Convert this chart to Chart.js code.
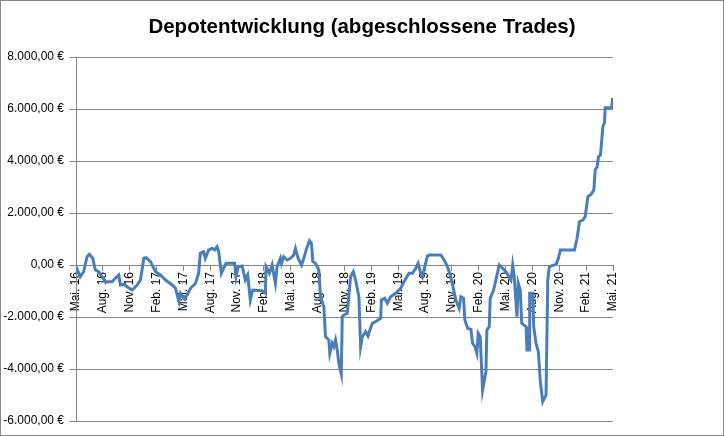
<!DOCTYPE html>
<html>
<head>
<meta charset="utf-8">
<script src="https://cdn.jsdelivr.net/npm/chart.js@4.4.1/dist/chart.umd.min.js"></script>
<style>
  html, body { margin: 0; padding: 0; background: #ffffff; }
  #wrap { width: 724px; height: 436px; position: relative; }
</style>
</head>
<body>
<div id="wrap"><canvas id="c" width="724" height="436"></canvas></div>
<script>
const chartTitle = "Depotentwicklung (abgeschlossene Trades)";

// x positions: months elapsed since May 2016
const monthOffsets = [
  0, 0.48, 0.86, 1.23, 1.49, 1.87, 2.16, 2.54, 2.91, 3.28,
  4.03, 4.40, 4.78, 4.96, 5.34, 5.71, 6.27, 6.83, 7.20, 7.58,
  7.84, 8.32, 8.88, 9.44, 10.0, 10.75, 11.12, 11.50, 11.68, 12.06,
  12.43, 12.80, 13.36, 13.70, 13.89, 14.25, 14.45, 14.82, 15.20, 15.49,
  15.76, 15.94, 16.24, 16.49, 16.76, 17.72, 17.88, 18.11, 18.56, 18.92,
  19.18, 19.48, 19.74, 20.79, 21.16, 21.24, 21.61, 21.91, 22.28, 22.47,
  22.84, 22.96, 23.21, 23.59, 23.96, 24.33, 24.52, 24.82, 25.20, 25.45,
  25.83, 26.09, 26.31, 26.46, 26.76, 27.13, 27.32, 27.69, 27.88, 28.25,
  28.36, 28.63, 28.81, 29.00, 29.19, 29.37, 29.64, 29.75, 29.93, 30.31,
  30.68, 30.98, 31.24, 31.61, 31.80, 31.99, 32.36, 32.62, 32.84, 33.11,
  33.48, 34.04, 34.12, 34.49, 34.79, 35.16, 35.72, 36.28, 36.65, 37.21,
  37.59, 37.96, 38.22, 38.52, 38.71, 38.97, 39.27, 39.45, 40.76, 41.13,
  41.51, 41.88, 42.44, 42.81, 43.00, 43.30, 43.45, 43.75, 44.12, 44.31,
  44.57, 44.79, 44.94, 45.16, 45.43, 45.80, 45.91, 46.17, 46.28, 46.66,
  47.29, 48.04, 48.60, 48.79, 48.97, 49.27, 49.42, 49.64, 49.80, 50.28,
  50.39, 50.65, 50.69, 51.03, 51.14, 51.40, 51.66, 51.88, 52.15, 52.52,
  52.71, 52.89, 53.64, 53.90, 54.12, 55.69, 55.99, 56.25, 56.63, 56.89,
  57.19, 57.56, 57.86, 58.01, 58.23, 58.38, 58.60, 58.87, 59.05, 59.13,
  59.85, 59.95
];

// portfolio value (EUR)
const depotValues = [
  -50, -450, -258, 319, 412, 258, -192, -258, -450, -642,
  -642, -512, -385, -769, -742, -835, -962, -769, -577, 258,
  281, 127, -258, -385, -577, -769, -896, -1411, -1088, -1281,
  -1154, -896, -704, -319, 450, 512, 258, 577, 642, 577,
  704, 512, -319, -127, 65, 65, -450, -65, -38, -577,
  -385, -1346, -962, -988, -1088, -65, -319, 0, -704, -65,
  258, 65, 319, 192, 258, 385, 642, 258, 0, 258,
  704, 935, 835, 127, 65, -192, -1219, -1604, -2758, -2885,
  -3396, -3011, -3142, -2885, -3269, -3781, -4192, -1988, -1923, -1858,
  -450, -258, -577, -1219, -3142, -2758, -2565, -2731, -2500, -2242,
  -2181, -2050, -1346, -1281, -1473, -1219, -1088, -896, -642, -319,
  -319, -127, 65, -319, -450, -65, 346, 385, 385, 192,
  -65, -462, -1346, -1665, -1219, -1281, -2115, -2435, -2473, -3011,
  -3142, -3396, -2627, -2758, -4808, -4104, -2500, -2373, -1281, -962,
  0, -258, -577, 0, -450, -1988, -704, -962, -2242, -2373,
  -3269, -3269, -1088, -1088, -2373, -3011, -3334, -4488, -5257, -5000,
  -577, -65, 27, 258, 577, 577, 1027, 1665, 1731, 1858,
  2627, 2719, 2885, 3654, 3781, 4165, 4231, 5319, 5488, 6050,
  6050, 6420
];

// category axis labels (one every 3 months)
const xTickMonths = [0, 3, 6, 9, 12, 15, 18, 21, 24, 27, 30, 33, 36, 39, 42, 45, 48, 51, 54, 57, 60];
const xTickLabels = ["Mai. 16","Aug. 16","Nov. 16","Feb. 17","Mai. 17","Aug. 17","Nov. 17","Feb. 18",
  "Mai. 18","Aug. 18","Nov. 18","Feb. 19","Mai. 19","Aug. 19","Nov. 19","Feb. 20","Mai. 20",
  "Aug. 20","Nov. 20","Feb. 21","Mai. 21"];

const yTickValues = [-6000, -4000, -2000, 0, 2000, 4000, 6000, 8000];
const yTickLabels = ["-6.000,00 €","-4.000,00 €","-2.000,00 €","0,00 €","2.000,00 €","4.000,00 €","6.000,00 €","8.000,00 €"];

const points = monthOffsets.map((m, i) => ({ x: m, y: depotValues[i] }));

const GRID = '#868686';

const frame = {
  id: 'frame',
  beforeDraw(chart) {
    const ctx = chart.ctx;
    ctx.save();
    ctx.fillStyle = '#ffffff';
    ctx.fillRect(0, 0, chart.width, chart.height);
    ctx.restore();
  },
  afterDraw(chart) {
    const ctx = chart.ctx;
    ctx.save();
    // centred chart title over the whole canvas
    ctx.fillStyle = '#000000';
    ctx.font = 'bold 20.5px "Liberation Sans"';
    ctx.textAlign = 'center';
    ctx.textBaseline = 'alphabetic';
    ctx.fillText(chartTitle, chart.width / 2, 33);
    // outer frame
    ctx.strokeStyle = GRID;
    ctx.lineWidth = 1;
    ctx.strokeRect(0.5, 0.5, chart.width - 1, chart.height - 1);
    ctx.restore();
  }
};

new Chart(document.getElementById('c'), {
  type: 'line',
  data: {
    datasets: [{
      data: points,
      borderColor: '#4A7EBB',
      borderWidth: 3,
      pointRadius: 0,
      tension: 0,
      fill: false
    }]
  },
  options: {
    responsive: false,
    animation: false,
    layout: { padding: { left: 0, right: 111, top: 57, bottom: 15 } },
    plugins: {
      legend: { display: false },
      tooltip: { enabled: false },
      title: { display: false }
    },
    scales: {
      x: {
        type: 'linear',
        position: { y: 0 },
        min: 0,
        max: 60,
        afterBuildTicks(scale) {
          scale.ticks = xTickMonths.map(v => ({ value: v }));
        },
        ticks: {
          autoSkip: false,
          minRotation: 90,
          maxRotation: 90,
          padding: 2,
          color: '#000000',
          font: { family: 'Liberation Sans', size: 12 },
          callback(value) {
            const i = xTickMonths.indexOf(value);
            return i >= 0 ? xTickLabels[i] : '';
          }
        },
        grid: { drawOnChartArea: false, drawTicks: true, tickLength: 5, color: GRID },
        border: { display: true, color: GRID, width: 1 }
      },
      y: {
        min: -6000,
        max: 8000,
        afterFit(scale) { scale.width = 76; },
        afterBuildTicks(scale) {
          scale.ticks = yTickValues.map(v => ({ value: v }));
        },
        ticks: {
          padding: 6,
          color: '#000000',
          font: { family: 'Liberation Sans', size: 12 },
          callback(value) {
            const i = yTickValues.indexOf(value);
            return i >= 0 ? yTickLabels[i] : '';
          }
        },
        grid: { color: GRID, drawTicks: true, tickLength: 6 },
        border: { display: true, color: GRID, width: 1 }
      }
    }
  },
  plugins: [frame]
});
</script>
</body>
</html>
